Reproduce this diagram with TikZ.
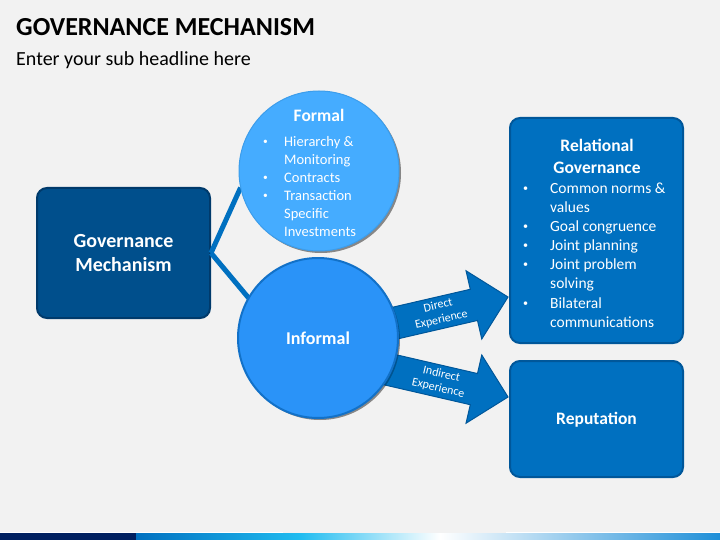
\documentclass[tikz,border=0pt]{standalone}
\usepackage{fontspec}
\setmainfont{Carlito}
\usepackage{xcolor}
\usetikzlibrary{positioning,shadows}

\definecolor{slidegray}{HTML}{F2F2F2}
\definecolor{navy}{HTML}{004F8C}
\definecolor{navyedge}{HTML}{003A6B}
\definecolor{midblue}{HTML}{0070C0}
\definecolor{midedge}{HTML}{00579A}
\definecolor{skyblue}{HTML}{45ACFF}
\definecolor{skyedge}{HTML}{3C9DEB}
\definecolor{brightblue}{HTML}{2A93F8}
\definecolor{brightedge}{HTML}{1271C8}
\definecolor{barnavy}{HTML}{002060}
\definecolor{barcyan}{HTML}{20BCF0}
\definecolor{barend}{HTML}{1E8FD8}

\newcommand{\blt}[1][22pt]{\makebox[#1][l]{\hspace*{1pt}\raisebox{0.12em}{\scalebox{0.65}{\textbullet}}}}
\newcommand{\bsp}[1][22pt]{\hspace*{#1}}

\begin{document}
\begin{tikzpicture}[x=1pt, y=-1pt,
                    govbox/.style={draw=navyedge, line width=2pt, fill=navy, rounded corners=10pt,
                                   text=white, align=center, font=\bfseries\fontsize{20}{24}\selectfont},
                    bluebox/.style={draw=midedge, line width=2pt, fill=midblue, rounded corners=10pt},
                    bubble/.style={circle, minimum size=160pt, inner sep=0pt,
                                   drop shadow={shadow xshift=2pt, shadow yshift=-2pt, opacity=.25, fill=black}},
                    link/.style={line width=5pt, midblue},
                    blockarrow/.style={draw=midedge, line width=1pt, fill=midblue},
                    arrowtext/.style={text=white, align=center, font=\fontsize{12}{14.5}\selectfont},
                    listtext/.style={text=white, align=left, inner sep=0pt, anchor=north west},
                   ]

\fill[slidegray] (0,0) rectangle (720,540);
\useasboundingbox (0,0) rectangle (720,540);

% headline
\node[anchor=base west, inner sep=0pt, font=\bfseries\fontsize{26}{30}\selectfont] (title) at (16,36) {GOVERNANCE MECHANISM};
\node[anchor=base west, inner sep=0pt, font=\fontsize{20}{24}\selectfont] (subtitle) at (16,66) {Enter your sub headline here};

% nodes
\node[govbox, minimum width=173pt, minimum height=130pt] (gov) at (123.5,253) {Governance\\Mechanism};
\coordinate (formalc) at (319,171);
\coordinate (informalc) at (318,338);
\path (formalc) node[bubble] (formal) {};
\path (informalc) node[bubble] (informal) {};

\draw[link] (gov.east) -- (formal.192);
\draw[link] (gov.east) -- (informal.150);

% block arrows
\coordinate (dtip) at (508,297);
\coordinate (itip) at (508,397);
\begin{scope}[shift={(dtip)}, rotate=13]
  \draw[blockarrow] (0,0) -- (-35,-35) -- (-35,-16) -- (-135,-16) -- (-135,16) -- (-35,16) -- (-35,35) -- cycle;
  \node[arrowtext, rotate=13] (direct) at (-70,0) {Direct\\Experience};
\end{scope}
\begin{scope}[shift={(itip)}, rotate=-13]
  \draw[blockarrow] (0,0) -- (-35,-35) -- (-35,-16) -- (-135,-16) -- (-135,16) -- (-35,16) -- (-35,35) -- cycle;
  \node[arrowtext, rotate=-13] (indirect) at (-70,0) {Indirect\\Experience};
\end{scope}

\path (formalc) node[bubble, fill=skyblue, draw=skyedge, line width=1pt] {};
\path (informalc) node[bubble, fill=brightblue, draw=brightedge, line width=2pt] {};

\node[bluebox, minimum width=173pt, minimum height=225pt] (relational) at (596.5,230.5) {};
\node[bluebox, minimum width=173pt, minimum height=116pt] (reputation) at (596.5,419) {};

% texts
\node[anchor=base, text=white, font=\bfseries\fontsize{17.5}{20}\selectfont] (formaltitle) at (319,122) {Formal};
\node[listtext, font=\fontsize{14.5}{18}\selectfont] (formallist) at (262,133.4)
  {\strut\blt Hierarchy \&\\ \bsp Monitoring\\ \blt Contracts\\ \blt Transaction\\ \bsp Specific\\ \bsp Investments};
\node[text=white, font=\bfseries\fontsize{18}{22}\selectfont] (informaltext) at (informal) {Informal};

\node[anchor=north, inner sep=0pt, text=white, align=center, font=\bfseries\fontsize{17.5}{22}\selectfont] (reltitle) at (597,135.6)
  {\strut Relational\\Governance};
\node[listtext, font=\fontsize{15.5}{19.14}\selectfont] (rellist) at (522,179.6)
  {\strut\blt[28pt]Common norms \&\\ \bsp[28pt]values\\ \blt[28pt]Goal congruence\\ \blt[28pt]Joint planning\\
   \blt[28pt]Joint problem\\ \bsp[28pt]solving\\ \blt[28pt]Bilateral\\ \bsp[28pt]communications};
\node[text=white, font=\bfseries\fontsize{17.5}{22}\selectfont] (reptext) at ([yshift=-1pt]reputation.center) {Reputation};

% footer bar
\fill[barnavy] (0,533) rectangle (136,540);
\shade[left color=midblue, right color=barcyan] (136,533) rectangle (300,540);
\shade[left color=barcyan, right color=white] (300,533) rectangle (440,540);
\shade[left color=white, right color=barend] (440,533) rectangle (720,540);
\draw[white, line width=1pt] (0,532) -- (283,532);
\draw[white, line width=1pt] (506,532) -- (720,532);

\end{tikzpicture}
\end{document}
